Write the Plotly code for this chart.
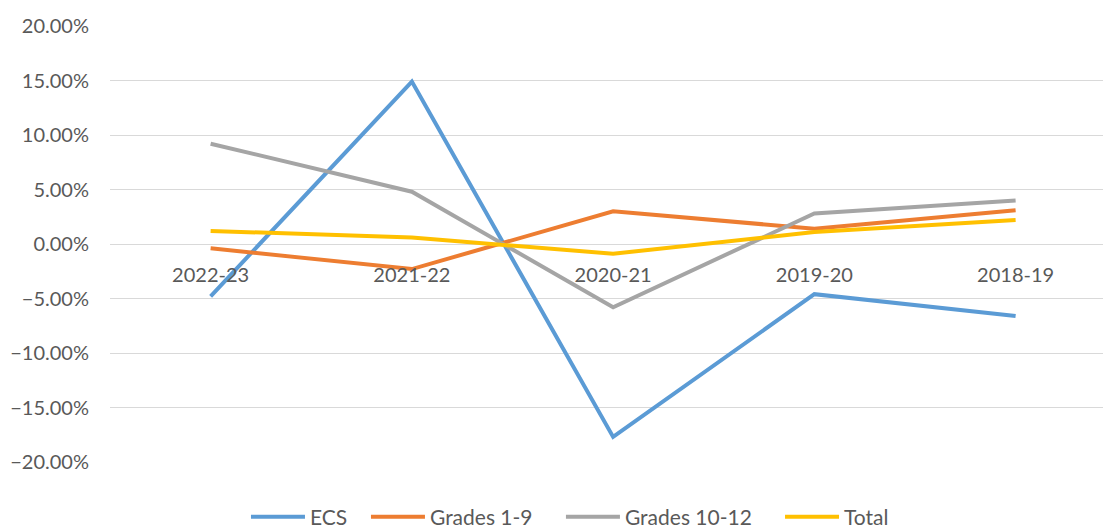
import plotly.graph_objects as go

years = ["2022-23", "2021-22", "2020-21", "2019-20", "2018-19"]
ecs = [-0.048, 0.149, -0.177, -0.046, -0.066]
grades_1_9 = [-0.004, -0.023, 0.030, 0.014, 0.031]
grades_10_12 = [0.092, 0.048, -0.058, 0.028, 0.040]
total = [0.012, 0.006, -0.009, 0.011, 0.022]

series_names = ["ECS", "Grades 1-9", "Grades 10-12", "Total"]
series_values = [ecs, grades_1_9, grades_10_12, total]
colors = ["#5B9BD5", "#ED7D31", "#A5A5A5", "#FFC000"]
legend_ids = ["legend", "legend2", "legend3", "legend4"]
legend_x = [0.2142, 0.3222, 0.4977, 0.6949]

font_family = "Lato, 'Open Sans', sans-serif"
text_color = "#595959"

fig = go.Figure()
for name, vals, col, lid in zip(series_names, series_values, colors, legend_ids):
    fig.add_trace(go.Scatter(
        x=years, y=vals, name=name, mode="lines",
        line=dict(color=col, width=4), legend=lid,
    ))

legend_common = dict(
    orientation="h", xref="container", yref="container",
    y=0.034, yanchor="middle", xanchor="left",
    font=dict(size=21, color=text_color), itemwidth=54,
    bgcolor="rgba(0,0,0,0)", borderwidth=0,
)

layout_legends = {}
for lid, lx in zip(legend_ids, legend_x):
    layout_legends[lid] = dict(legend_common, x=lx)

fig.update_layout(
    width=1111, height=527,
    margin=dict(l=102, r=8, t=18, b=73),
    paper_bgcolor="white", plot_bgcolor="white",
    font=dict(family=font_family, color=text_color, size=20),
    showlegend=True,
    xaxis=dict(
        type="category", range=[-0.5, 4.474], automargin=False,
        showgrid=False, zeroline=False, showline=False,
        anchor="free", position=0.5,
        ticks="", ticklabelstandoff=17,
        tickfont=dict(size=20, color=text_color),
    ),
    yaxis=dict(
        range=[-0.2, 0.2], dtick=0.05, tickformat=".2%", automargin=False,
        showgrid=True, gridcolor="#D9D9D9", gridwidth=1,
        zeroline=True, zerolinecolor="#D9D9D9", zerolinewidth=1,
        showline=False, ticks="", ticklabelstandoff=20,
        tickfont=dict(size=20, color=text_color),
    ),
    **layout_legends,
)

fig.write_html("out.html")
